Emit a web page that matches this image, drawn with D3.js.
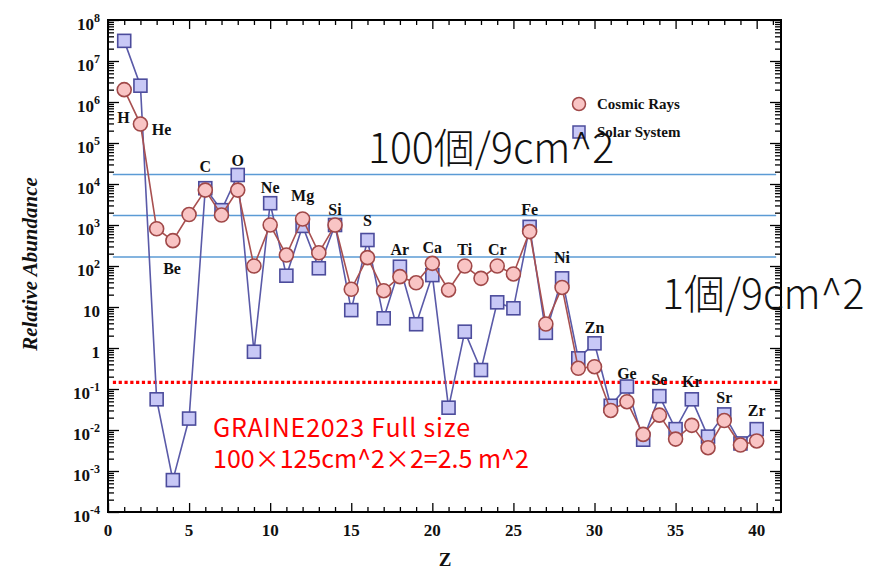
<!DOCTYPE html>
<html><head><meta charset="utf-8">
<script src="https://cdn.jsdelivr.net/npm/d3@7"></script>
<style>
html,body{margin:0;padding:0;background:#fff;}
svg{display:block;}
</style>
</head><body>
<svg id="chart" width="874" height="570"></svg>
<script>
// ---- data ----
const zValues = [1,2,3,4,5,6,7,8,9,10,11,12,13,14,15,16,17,18,19,20,21,22,23,24,25,26,27,28,29,30,31,32,33,34,35,36,37,38,39,40];
const cosmicRays = [2.0e6, 2.9e5, 810, 415, 1800, 7100, 1750, 7100, 100, 1000, 185, 1400, 210, 1000, 27, 160, 25, 55, 39, 116, 26, 100, 50, 100, 64, 690, 3.85, 30, 0.32, 0.35, 0.030, 0.049, 0.0078, 0.023, 0.006, 0.013, 0.0037, 0.017, 0.0043, 0.0054];
const solarSystem = [3.1e7, 2.5e6, 0.056, 6.0e-4, 0.019, 7900, 2300, 1.66e4, 0.81, 3400, 58, 950, 88, 1000, 8.4, 430, 5.3, 96, 3.8, 60, 0.035, 2.5, 0.29, 13, 9.3, 900, 2.35, 50, 0.56, 1.3, 0.039, 0.115, 0.0058, 0.067, 0.0105, 0.056, 0.0069, 0.024, 0.0047, 0.0105];
const elementNames = ["H","He","Be","C","O","Ne","Mg","Si","S","Ar","Ca","Ti","Cr","Fe","Ni","Zn","Ge","Se","Kr","Sr","Zr"];
const elementLabelZ = [0.95, 3.3, 3.95, 6, 8, 10, 12, 14, 16, 18, 20, 22, 24, 26, 28, 30, 32, 34, 36, 38, 40];
const elementLabelLog = [5.63, 5.34, 1.95, 4.44, 4.59, 3.93, 3.73, 3.39, 3.12, 2.41, 2.46, 2.41, 2.41, 3.39, 2.22, 0.51, -0.61, -0.76, -0.8, -1.2, -1.51];
const yExponents = [-4,-3,-2,-1,0,1,2,3,4,5,6,7,8];
const xTickLabels = [0,5,10,15,20,25,30,35,40];
const seriesNames = ["Cosmic Rays","Solar System"];
const countLines = [1.7e4, 1.7e3, 1.65e2];
const fullSizeLine = 0.145;
const countTexts = ["100個/9cm^2", "1個/9cm^2"];
const graineTexts = ["GRAINE2023 Full size", "100×125cm^2×2=2.5 m^2"];

// ---- layout ----
const L = 108, R = 781, T = 20, B = 512;
const svg = d3.select("#chart");
const x = d3.scaleLinear().domain([0, 41.5]).range([L, R]);
const y = d3.scaleLog().domain([1e-4, 1e8]).range([B, T]);

const serif = "'Liberation Serif','Times New Roman',serif";
const cjk = "'Noto Sans CJK JP','Noto Sans',sans-serif";

const majorY = yExponents.map(e => Math.pow(10, e));
const minorY = [];
yExponents.slice(0, -1).forEach(e => { for (let k = 2; k <= 9; k++) minorY.push(k * Math.pow(10, e)); });
const majorX = xTickLabels;
const minorX = d3.range(0, 42, 1).filter(v => v % 5 !== 0);

function styleAxis(g){ g.select(".domain").remove(); g.selectAll("line").attr("stroke","#000").attr("stroke-width",1.3); g.selectAll("text").remove(); }

// left axis
svg.append("g").attr("transform",`translate(${L},0)`).call(d3.axisLeft(y).tickValues(majorY).tickSize(-11).tickFormat("")).call(styleAxis);
svg.append("g").attr("transform",`translate(${L},0)`).call(d3.axisLeft(y).tickValues(minorY).tickSize(-6).tickFormat("")).call(styleAxis);
// right axis
svg.append("g").attr("transform",`translate(${R},0)`).call(d3.axisRight(y).tickValues(majorY).tickSize(-11).tickFormat("")).call(styleAxis);
svg.append("g").attr("transform",`translate(${R},0)`).call(d3.axisRight(y).tickValues(minorY).tickSize(-6).tickFormat("")).call(styleAxis);
// bottom axis
svg.append("g").attr("transform",`translate(0,${B})`).call(d3.axisBottom(x).tickValues(majorX).tickSize(-9).tickFormat("")).call(styleAxis);
svg.append("g").attr("transform",`translate(0,${B})`).call(d3.axisBottom(x).tickValues(minorX).tickSize(-5).tickFormat("")).call(styleAxis);
// top axis
svg.append("g").attr("transform",`translate(0,${T})`).call(d3.axisTop(x).tickValues(majorX).tickSize(-9).tickFormat("")).call(styleAxis);
svg.append("g").attr("transform",`translate(0,${T})`).call(d3.axisTop(x).tickValues(minorX).tickSize(-5).tickFormat("")).call(styleAxis);

// frame
svg.append("rect").attr("x",L).attr("y",T).attr("width",R-L).attr("height",B-T)
  .attr("fill","none").attr("stroke","#000").attr("stroke-width",2);

// y tick labels
const yl = svg.append("g").attr("font-family",serif).attr("font-weight","bold").attr("fill","#111");
yExponents.forEach(e => {
  const v = Math.pow(10, e);
  const t = yl.append("text").attr("x", 100).attr("y", y(v) + 10).attr("text-anchor","end").attr("font-size",17);
  if (e === 0) t.text("1");
  else if (e === 1) t.text("10");
  else {
    t.append("tspan").text("10");
    t.append("tspan").attr("font-size",12).attr("dy",-8).text(e < 0 ? "-" + (-e) : String(e));
  }
});
// x tick labels
svg.append("g").selectAll("text").data(xTickLabels).join("text")
  .attr("x", d => x(d)).attr("y", B + 24).attr("text-anchor","middle")
  .attr("font-family",serif).attr("font-weight","bold").attr("font-size",17).attr("fill","#111")
  .text(d => d);

// axis titles
svg.append("text").attr("transform",`translate(37,264) rotate(-90)`).attr("text-anchor","middle")
  .attr("font-family",serif).attr("font-weight","bold").attr("font-style","italic").attr("font-size",21).attr("fill","#111")
  .text("Relative Abundance");
svg.append("text").attr("x",445).attr("y",566).attr("text-anchor","middle")
  .attr("font-family",serif).attr("font-weight","bold").attr("font-size",19).attr("fill","#111").text("Z");

// reference lines
svg.append("g").selectAll("line").data(countLines).join("line")
  .attr("x1", x(0.3)).attr("x2", x(41.2)).attr("y1", d => y(d)).attr("y2", d => y(d))
  .attr("stroke","#5b9bd5").attr("stroke-width",1.5);
svg.append("line").attr("x1", x(0.3)).attr("x2", x(41.3)).attr("y1", y(fullSizeLine)).attr("y2", y(fullSizeLine))
  .attr("stroke","#ff0000").attr("stroke-width",3.2).attr("stroke-dasharray","3.2,2.6");

// series
const solarPts = zValues.map((z,i) => [z, solarSystem[i]]);
const cosmicPts = zValues.map((z,i) => [z, cosmicRays[i]]);
const line = d3.line().x(d => x(d[0])).y(d => y(d[1]));

svg.append("path").datum(solarPts).attr("d", line).attr("fill","none").attr("stroke","#5a5aa8").attr("stroke-width",1.6);
const sq = 13;
svg.append("g").selectAll("rect").data(solarPts).join("rect")
  .attr("x", d => x(d[0]) - sq/2).attr("y", d => y(d[1]) - sq/2).attr("width", sq).attr("height", sq)
  .attr("fill","#c8c8f6").attr("stroke","#4c4c9c").attr("stroke-width",1.6);

svg.append("path").datum(cosmicPts).attr("d", line).attr("fill","none").attr("stroke","#a85050").attr("stroke-width",1.6);
svg.append("g").selectAll("circle").data(cosmicPts).join("circle")
  .attr("cx", d => x(d[0])).attr("cy", d => y(d[1])).attr("r", 7)
  .attr("fill","#f9c4c4").attr("stroke","#a04848").attr("stroke-width",1.6);

// element labels
svg.append("g").selectAll("text").data(elementNames).join("text")
  .attr("x", (d,i) => x(elementLabelZ[i])).attr("y", (d,i) => y(Math.pow(10, elementLabelLog[i])) + 6)
  .attr("text-anchor","middle").attr("font-family",serif).attr("font-weight","bold").attr("font-size",16).attr("fill","#111")
  .text(d => d);

// legend
const lg = svg.append("g");
lg.append("circle").attr("cx",579).attr("cy",104).attr("r",6.5).attr("fill","#f9c4c4").attr("stroke","#a04848").attr("stroke-width",1.5);
lg.append("rect").attr("x",573).attr("y",126).attr("width",12).attr("height",12).attr("fill","#c8c8f6").attr("stroke","#4c4c9c").attr("stroke-width",1.5);
lg.selectAll("text").data(seriesNames).join("text")
  .attr("x",597).attr("y",(d,i) => 109 + i*28)
  .attr("font-family",serif).attr("font-weight","bold").attr("font-size",15).attr("fill","#111").text(d => d);

// annotation texts
svg.append("text").attr("x",368).attr("y",163).attr("font-family",cjk).attr("font-weight",300).attr("font-size",41).attr("fill","#111").text(countTexts[0]);
svg.append("text").attr("x",662).attr("y",309).attr("font-family",cjk).attr("font-weight",300).attr("font-size",41).attr("fill","#111").text(countTexts[1]);
svg.append("g").selectAll("text").data(graineTexts).join("text")
  .attr("x",213).attr("y",(d,i) => 437 + i*31)
  .attr("letter-spacing",(d,i) => i === 0 ? 0.8 : 0)
  .attr("font-family",cjk).attr("font-size",25).attr("fill","#ff0000").text(d => d);
</script>
</body></html>
